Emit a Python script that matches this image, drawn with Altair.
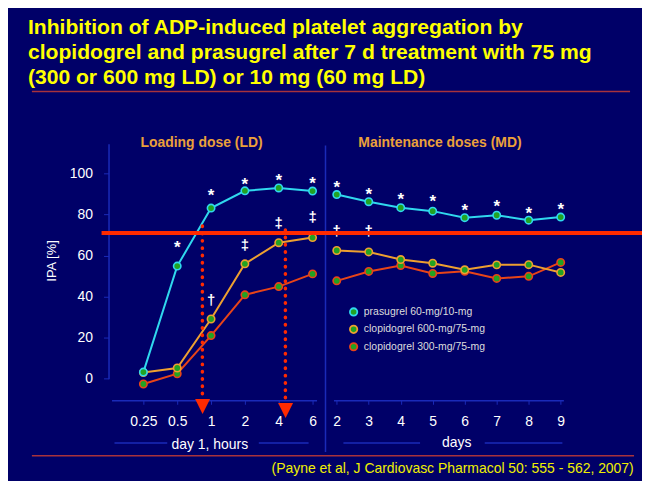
import altair as alt
import pandas as pd

BG = "#000068"
FAINT = "#1a2ab8"
RED = "#ff2a00"
ORANGE = "#eba03a"
YELLOW = "#ffff00"
GREEN = "#22a322"
F = "Liberation Sans, Arial, sans-serif"

series = ["prasugrel 60-mg/10-mg", "clopidogrel 600-mg/75-mg", "clopidogrel 300-mg/75-mg"]
colors = ["#30d8ee", "#eea030", "#e84418"]

ld_hours = ["0.25", "0.5", "1", "2", "4", "6"]
md_days = ["2", "3", "4", "5", "6", "7", "8", "9"]

pras_ld = [3.2, 54.9, 83.2, 91.6, 93.0, 91.5]
clop600_ld = [3.0, 5.2, 29.1, 56.0, 66.3, 68.8]
clop300_ld = [-2.6, 2.4, 21.0, 40.9, 44.9, 51.1]
pras_md = [89.8, 86.3, 83.4, 81.7, 78.5, 79.7, 77.3, 78.8]
clop600_md = [62.5, 61.8, 58.1, 56.3, 53.1, 55.5, 55.6, 51.8]
clop300_md = [47.7, 52.3, 55.2, 51.3, 52.4, 48.9, 49.9, 56.7]

# significance marks (level, in IPA units)
ld_star_times = ["0.5", "1", "2", "4", "6"]
ld_star_levels = [66.0, 91.4, 96.7, 98.7, 97.2]
md_star_levels = [95.1, 91.9, 89.5, 88.3, 84.1, 86.2, 82.5, 84.6]
ld_dag_times = ["1", "2", "4", "6"]
ld_dag_symbols = ["\u2020", "\u2021", "\u2021", "\u2021"]
ld_dag_levels = [38.5, 65.2, 75.7, 78.6]
md_dag_times = ["2", "3"]
md_dag_symbols = ["\u2020", "\u2020"]
md_dag_levels = [72.1, 72.1]
threshold = 71

title_lines = [
    "Inhibition of ADP-induced  platelet aggregation by",
    "clopidogrel and prasugrel after 7 d treatment with 75 mg",
    "(300 or 600 mg LD) or 10 mg (60 mg LD)",
]
citation = "(Payne et al, J Cardiovasc Pharmacol 50: 555 - 562, 2007)"


def series_df(times, vals_by_series):
    rows = []
    for name in [series[2], series[1], series[0]]:
        for t, v in zip(times, vals_by_series[name]):
            rows.append({"t": t, "ipa": v, "series": name})
    return pd.DataFrame(rows)


ld_df = series_df(ld_hours, {series[0]: pras_ld, series[1]: clop600_ld, series[2]: clop300_ld})
md_df = series_df(md_days, {series[0]: pras_md, series[1]: clop600_md, series[2]: clop300_md})

ld_star_df = pd.DataFrame({"t": ld_star_times, "ipa": ld_star_levels, "s": ["*"] * len(ld_star_times)})
md_star_df = pd.DataFrame({"t": md_days, "ipa": md_star_levels, "s": ["*"] * len(md_days)})
ld_dag_df = pd.DataFrame({"t": ld_dag_times, "ipa": ld_dag_levels, "s": ld_dag_symbols})
md_dag_df = pd.DataFrame({"t": md_dag_times, "ipa": md_dag_levels, "s": md_dag_symbols})
thr_df = pd.DataFrame({"ipa": [threshold]})
one = pd.DataFrame({"k": [0]})

y_enc = alt.Y(
    "ipa:Q",
    scale=alt.Scale(domain=[0, 114.6], range=[279.3, 43.2], nice=False, zero=False),
    axis=alt.Axis(
        values=[0, 20, 40, 60, 80, 100], title="IPA [%]", grid=False,
        labelColor="white", labelFont=F, labelFontSize=14, labelPadding=11,
        tickSize=5, tickColor=FAINT, domainColor=FAINT, domainWidth=1.5,
        titleColor="white", titleFont=F, titleFontSize=13, titleFontWeight="normal",
        titleX=-57, titleY=160.5, titleBaseline="middle",
    ),
)


def x_axis(title, tx, ty):
    return alt.Axis(
        orient="bottom", title=title, grid=False, labelAngle=0,
        labelColor="white", labelFont=F, labelFontSize=14, labelPadding=10,
        tickSize=4, tickColor=FAINT, domainColor=FAINT, domainWidth=1.5,
        titleColor="white", titleFont=F, titleFontSize=14, titleFontWeight="normal",
        titleX=tx, titleY=ty, titleBaseline="alphabetic",
    )


x_ld = alt.X("t:O", sort=ld_hours,
             scale=alt.Scale(type="point", domain=ld_hours, range=[3, 209], padding=0.53, align=0.889, round=False),
             axis=x_axis("day 1, hours", 101.3, 48))
x_md = alt.X("t:O", sort=md_days,
             scale=alt.Scale(type="point", domain=md_days, range=[226, 457], padding=0.093, align=0.55, round=False),
             axis=x_axis("days", 349.3, 46))

stroke_scale = alt.Scale(domain=series, range=colors)
legend = alt.Legend(
    orient="none", legendX=241, legendY=207, title=None, labelColor="#dddddd",
    labelFont=F, labelFontSize=10.5, symbolType="circle", symbolSize=55,
    symbolFillColor=GREEN, symbolStrokeWidth=1.8, labelOffset=5, rowPadding=1.5, padding=0,
)
stroke_enc = alt.Stroke("series:N", scale=stroke_scale, legend=legend)


def panel(df, star_df, dag_df, xenc):
    lines = alt.Chart(df).mark_line(strokeWidth=2).encode(
        x=xenc, y=y_enc, stroke=stroke_enc, detail="series:N")
    pts = alt.Chart(df).mark_circle(fill=GREEN, size=55, strokeWidth=1.6, opacity=1).encode(
        x=xenc, y=y_enc, stroke=stroke_enc)
    stars = alt.Chart(star_df).mark_text(
        font=F, fontSize=17, fontWeight="bold", color="white", baseline="middle", dy=4.8
    ).encode(x=xenc, y=y_enc, text="s:N")
    dags = alt.Chart(dag_df).mark_text(
        font=F, fontSize=15, fontWeight="bold", color="white", baseline="middle"
    ).encode(x=xenc, y=y_enc, text="s:N")
    return alt.layer(lines, pts, stars, dags)


ld = panel(ld_df, ld_star_df, ld_dag_df, x_ld)
md = panel(md_df, md_star_df, md_dag_df, x_md)


def hrule(x1, x2, y, color=FAINT, width=1.5):
    return alt.Chart(one).mark_rule(color=color, strokeWidth=width).encode(
        x=alt.value(x1), x2=alt.value(x2), y=alt.value(y))


def txt(text, x, y, **kw):
    return alt.Chart(one).mark_text(text=text, **kw).encode(x=alt.value(x), y=alt.value(y))


deco = [
    alt.Chart(one).mark_rule(color=FAINT, strokeWidth=1.5).encode(
        x=alt.value(218), y=alt.value(45), y2=alt.value(353)),
    hrule(6, 59, 344), hrule(151, 201, 344), hrule(236, 313, 344), hrule(378, 456, 344),
    hrule(-77, 524, -9.3, "#a8323c", 1.5),
    hrule(-77, 528, 356.7, "#a8323c", 1.5),
    txt(title_lines, -81, -67, font=F, fontSize=21.2, fontWeight="bold", color=YELLOW,
        align="left", baseline="alphabetic", lineHeight=25),
    txt("Loading dose (LD)", 93.5, 46.7, font=F, fontSize=14, fontWeight="bold", color=ORANGE,
        align="center", baseline="alphabetic"),
    txt("Maintenance doses (MD)", 333, 46.5, font=F, fontSize=14, fontWeight="bold", color=ORANGE,
        align="center", baseline="alphabetic"),
    txt(citation, 527.7, 374, font=F, fontSize=14, color="#f0f000", align="right", baseline="alphabetic"),
]

thr = alt.Chart(thr_df).mark_rule(color=RED, strokeWidth=4).encode(
    y=y_enc, x=alt.value(-7), x2=alt.value(540))

arrows = []
for ax, y1, y2, ty in [(94.3, 126, 300, 307.2), (177.7, 130, 304, 311.2)]:
    arrows.append(alt.Chart(one).mark_rule(
        color=RED, strokeWidth=3.5, strokeDash=[0.5, 6.8], strokeCap="round").encode(
        x=alt.value(ax), y=alt.value(y1), y2=alt.value(y2)))
    arrows.append(alt.Chart(one).mark_point(
        shape="M-1,-1L1,-1L0,1Z", filled=True, color=RED, size=225, opacity=1).encode(
        x=alt.value(ax + 0.2), y=alt.value(ty)))

chart = alt.layer(*deco, ld, md, thr, *arrows).resolve_scale(x="independent").properties(
    width=536, height=301,
    padding={"left": 101, "top": 92, "right": 0, "bottom": 80},
    autosize=alt.AutoSizeParams(type="none"),
).configure(background=BG).configure_view(strokeWidth=0)

chart.save("out.html", embed_options={"renderer": "svg", "actions": False})
